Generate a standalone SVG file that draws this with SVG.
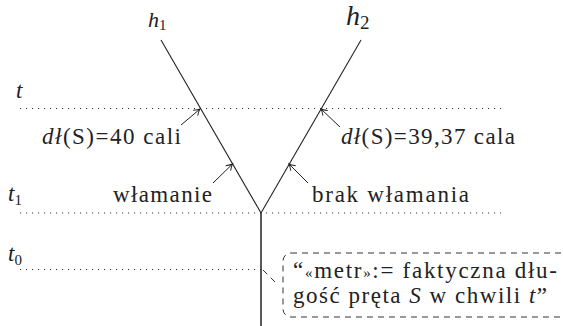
<svg xmlns="http://www.w3.org/2000/svg" width="563" height="326" viewBox="0 0 563 326">
<style>
text{font-family:'Liberation Serif','DejaVu Serif',serif;font-size:23px;fill:#222}
.it{font-style:italic}
.sub{font-size:15px}
.ln{stroke:#222;stroke-width:1.1;fill:none}
.vt{stroke:#222;stroke-width:1.5;fill:none}
.dot{stroke:#333;stroke-width:1.1;stroke-dasharray:1.1 4.9;fill:none}
.dash{stroke:#333;stroke-width:1;stroke-dasharray:6 5;fill:none}
.arr{stroke:#222;stroke-width:1;fill:none;marker-end:url(#to)}
</style>
<defs>
<marker id="to" viewBox="-8 -5 10 10" refX="0" refY="0" markerWidth="10" markerHeight="10" markerUnits="userSpaceOnUse" orient="auto">
<path d="M-6,-3.5 Q-2,-0.6 0,0 Q-2,0.6 -6,3.5" stroke="#222" stroke-width="1" fill="none"/>
</marker>
</defs>
<g id="timelines">
<line class="dot" x1="20" y1="108.5" x2="501" y2="108.5"/>
<line class="dot" x1="20" y1="213" x2="501" y2="213"/>
<line class="dot" x1="20" y1="269.5" x2="261" y2="269.5"/>
<text id="t" class="it" x="16" y="98">t</text>
<text id="t1" x="8" y="201"><tspan class="it">t</tspan><tspan class="sub" dy="4">1</tspan></text>
<text id="t0" x="8" y="261"><tspan class="it">t</tspan><tspan class="sub" dy="4">0</tspan></text>
</g>
<g id="connectors">
<line class="ln" x1="161" y1="40" x2="261" y2="213"/>
<line class="ln" x1="361" y1="40" x2="261" y2="213"/>
<line class="vt" x1="261" y1="212.5" x2="261" y2="326"/>
<line class="arr" x1="181" y1="125" x2="200" y2="109"/>
<line class="arr" x1="340" y1="127" x2="321" y2="109"/>
<line class="arr" x1="213" y1="183" x2="232.5" y2="164"/>
<line class="arr" x1="308" y1="183" x2="289" y2="164"/>
<line class="dash" x1="263" y1="270" x2="278" y2="285"/>
</g>
<g id="h1"><text x="148" y="27" style="font-size:22px"><tspan class="it">h</tspan><tspan class="sub" dy="3">1</tspan></text></g>
<g id="h2"><text x="346" y="25" style="font-size:28px"><tspan class="it">h</tspan><tspan style="font-size:19px" dy="4">2</tspan></text></g>
<g id="label-h1"><text x="42" y="144" textLength="139"><tspan class="it">dł</tspan>(S)=40 cali</text></g>
<g id="label-h2"><text x="341" y="144" textLength="174"><tspan class="it">dł</tspan>(S)=39,37 cala</text></g>
<g id="wlamanie"><text x="113" y="202" textLength="99">włamanie</text></g>
<g id="brak"><text x="312" y="202" textLength="157">brak włamania</text></g>
<g id="note">
<rect class="dash" x="283" y="253" width="290" height="64" rx="8"/>
<text x="293" y="278" textLength="264">“<tspan style="font-size:15px">«</tspan>metr<tspan style="font-size:15px">»</tspan>:= faktyczna dłu-</text>
<text x="293" y="303" textLength="254">gość pręta <tspan class="it">S</tspan> w chwili <tspan class="it">t</tspan>”</text>
</g>
</svg>
